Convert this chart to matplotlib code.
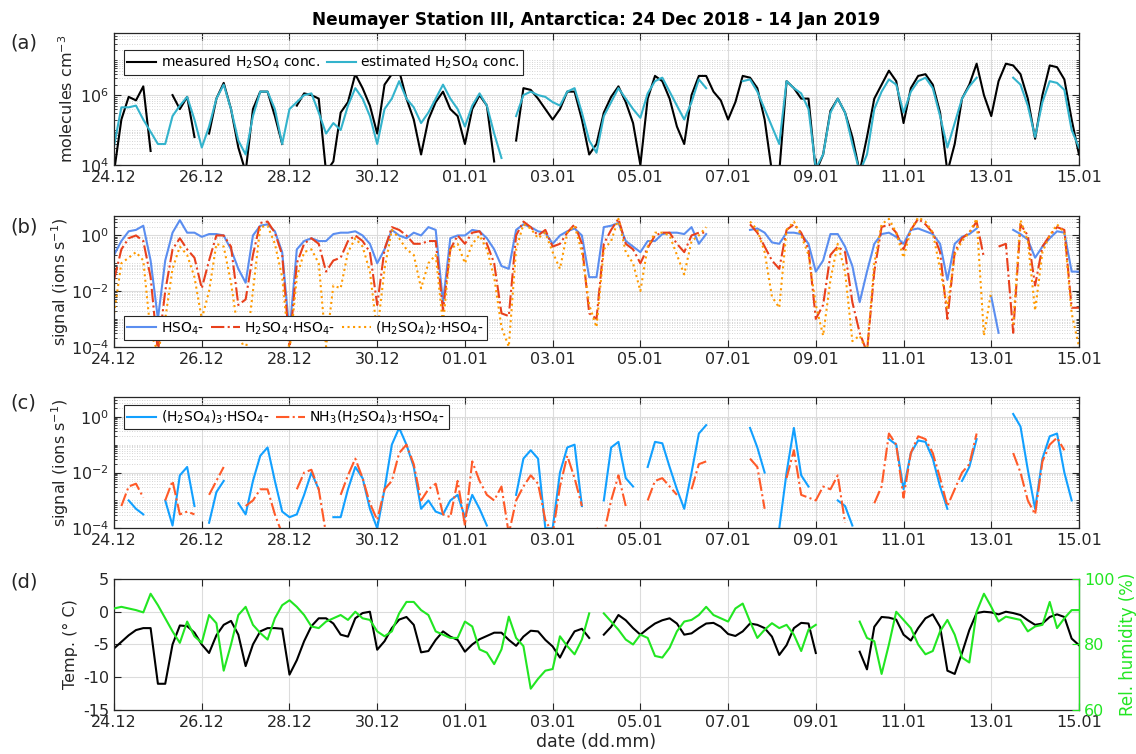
import numpy as np
import pandas as pd
import matplotlib
matplotlib.use("Agg")
import matplotlib.pyplot as plt
from matplotlib.ticker import FixedLocator, LogLocator, NullFormatter, FuncFormatter

nan = np.nan

# 4-hourly samples, 24 Dec 2018 00:00 -> 15 Jan 2019 00:00
times = pd.date_range("2018-12-24", periods=133, freq="4h")
tick_dates = pd.date_range("2018-12-24", "2019-01-15", freq="2D")
tick_labels = [d.strftime("%d.%m") for d in tick_dates]

# (a) H2SO4 concentration, log10(molecules cm-3), one row per day
h2so4_measured_log = [
    3.8, 5.3, 5.95, 5.85, 6.25, 4.4,
    nan, nan, 6.0, 5.6, 5.95, 4.8,
    nan, 4.9, 5.9, 6.35, 5.6, 4.5,
    3.8, 5.6, 6.1, 6.1, 5.4, 4.6,
    nan, 5.7, 6.05, 6.0, 5.9, 3.8,
    4.1, 5.5, 5.8, 6.6, 6.2, 5.7,
    4.9, 6.3, 6.6, 6.7, 5.9, 5.3,
    4.3, 5.3, 5.8, 6.1, 5.6, 5.4,
    4.6, 5.6, 6.0, 5.7, 4.1, nan,
    nan, 4.7, 6.2, 6.15, 5.9, 5.6,
    5.3, 5.6, 6.1, 6.1, 5.3, 4.3,
    4.6, 5.5, 5.95, 6.25, 5.8, 5.2,
    4.0, 5.9, 6.55, 6.4, 5.9, 5.1,
    4.6, 6.0, 6.55, 6.55, 6.1, 5.85,
    5.3, 5.8, 6.55, 6.5, 6.2, 5.3,
    3.8, 3.8, 6.4, 6.2, 5.9, 5.9,
    3.8, 4.3, 5.55, 5.9, 5.5, 4.8,
    3.8, 4.8, 5.9, 6.3, 6.7, 6.4,
    5.2, 6.2, 6.55, 6.6, 6.3, 5.5,
    3.8, 4.6, 5.9, 6.3, 6.9, 6.0,
    5.4, 6.4, 6.9, 6.85, 6.6, 5.9,
    4.75, 6.0, 6.85, 6.8, 6.45, 5.3,
    4.3,
]
h2so4_estimated_log = [
    4.55, 5.65, 5.65, 5.7, 5.3, 4.95,
    4.6, 4.6, 5.4, 5.7, 5.95, 5.3,
    4.5, 5.1, 5.9, 6.3, 5.6, 4.7,
    4.3, 5.4, 6.1, 6.1, 5.6, 4.6,
    5.6, 5.8, 6.0, 6.05, 5.5, 4.9,
    5.2, 5.0, 5.7, 6.2, 5.9, 5.4,
    4.6, 5.6, 5.9, 6.4, 5.9, 5.65,
    5.2, 5.5, 5.9, 6.3, 5.9, 5.6,
    5.1, 5.7, 6.05, 5.7, 4.9, 4.2,
    nan, 5.4, 6.0, 6.1, 6.0, 5.95,
    5.8, 5.7, 6.1, 6.2, 5.5, 4.7,
    4.35, 5.4, 5.8, 6.2, 5.9, 5.6,
    5.35, 6.05, 6.4, 6.5, 6.1, 5.7,
    5.3, 5.8, 6.45, 6.2, nan, nan,
    nan, nan, 6.4, 6.45, 6.1, 5.6,
    5.1, 4.6, 6.4, 6.2, 6.05, 5.6,
    3.9, 4.3, 5.5, 5.9, 5.5, 4.6,
    3.8, 4.3, 5.6, 6.1, 6.45, 6.3,
    5.5, 6.1, 6.4, 6.5, 6.2, 5.4,
    4.5, 5.2, 5.9, 6.25, 6.5, nan,
    nan, nan, nan, 6.5, 6.3, 5.7,
    4.8, 5.8, 6.4, 6.35, 6.15, 5.0,
    4.5,
]

# (b) cluster signals, log10(ions s-1)
hso4_log = [
    -0.7, -0.2, 0.15, 0.2, 0.35, -0.9,
    -3.0, -0.9, 0.1, 0.55, 0.1, 0.1,
    -0.05, 0.05, 0.05, 0.0, -0.5, -1.2,
    -1.7, 0.0, 0.35, 0.4, 0.15, -0.6,
    -3.5, -0.5, -0.2, -0.1, -0.2, -0.2,
    0.05, 0.1, 0.1, 0.15, 0.0, -0.3,
    -1.0, -0.5, 0.2, 0.0, -0.1, 0.1,
    0.0, 0.3, 0.2, -2.4, -0.1, 0.0,
    0.0, 0.2, 0.15, -0.1, -0.5, -1.1,
    -1.2, 0.2, 0.4, 0.3, 0.15, 0.1,
    -0.3, 0.0, 0.15, 0.25, 0.0, -1.5,
    -1.5, 0.3, 0.35, 0.45, -0.2, -0.4,
    -0.6, -0.2, -0.2, 0.05, 0.1, 0.1,
    0.05, 0.3, -0.3, 0.05, nan, nan,
    nan, nan, nan, 0.2, 0.25, 0.1,
    -0.25, -0.3, 0.1, 0.1, 0.05, -0.3,
    -1.3, -0.9, 0.05, 0.05, -0.4, -1.1,
    -2.4, -1.3, -0.3, 0.05, 0.1, -0.05,
    -0.3, 0.2, 0.25, 0.15, 0.05, -0.3,
    -1.6, -0.3, -0.05, 0.05, 0.25, nan,
    -2.2, -3.5, nan, 0.2, 0.05, -0.15,
    -0.8, -0.4, -0.1, 0.15, 0.1, -1.3,
    -1.3,
]
dimer_log = [
    -1.6, -0.5, -0.1, 0.0, -0.2, -1.5,
    -4.2, -2.0, -0.5, -0.1, -0.5, -0.8,
    -1.9, -0.9, 0.0, 0.0, -0.4, -2.5,
    -2.3, -0.7, 0.45, 0.5, 0.1, -0.7,
    -4.0, -1.0, -0.3, -0.1, -0.3, -1.3,
    -0.9, -0.8, -0.2, 0.0, -0.2, -0.6,
    -2.5, -0.5, 0.3, 0.2, 0.0, -0.3,
    -0.3, -0.2, -0.2, -2.7, -0.5, 0.0,
    -0.3, 0.1, 0.15, -0.3, -1.0, -2.8,
    -2.9, 0.0, 0.5, 0.3, 0.0, 0.2,
    -0.4, -0.3, 0.1, 0.4, -0.3, -2.8,
    -3.0, -0.3, 0.2, 0.6, -0.3, -0.5,
    -1.0, -0.45, 0.0, 0.1, 0.1, -0.3,
    -0.6, 0.0, 0.1, 0.1, nan, nan,
    nan, nan, nan, 0.4, 0.1, -0.4,
    -0.9, -1.2, 0.2, 0.4, 0.1, -0.5,
    -3.0, -2.5, -0.7, -0.4, -0.6, -2.4,
    -3.5, -4.2, -1.3, 0.3, 0.4, 0.1,
    -0.5, 0.2, 0.6, 0.4, 0.1, -0.6,
    -3.0, -0.6, -0.1, 0.1, 0.5, -0.8,
    nan, -0.4, -0.3, -3.5, 0.4, 0.0,
    -1.8, -0.4, 0.0, 0.3, 0.2, -2.6,
    -2.6,
]
trimer_log = [
    -2.8, -1.0, -0.8, -0.6, -0.9, -3.5,
    -4.2, -3.0, -1.2, -0.4, -0.7, -1.5,
    -3.0, -2.0, -0.3, -0.4, -1.7, -3.5,
    -4.2, -2.0, 0.3, 0.35, -0.3, -1.5,
    -4.2, -1.5, -0.6, -0.5, -1.0, -4.0,
    -1.8, -1.9, -0.6, -0.1, -0.4, -1.3,
    -3.5, -1.2, 0.2, -0.1, -0.5, -0.7,
    -1.9, -1.0, -0.7, -3.2, -0.5, -0.3,
    -1.0, -0.3, 0.0, -0.5, -1.5, -3.3,
    -4.0, -0.5, 0.4, 0.25, -0.1, 0.1,
    -0.6, -1.2, 0.1, 0.35, -0.6, -2.5,
    -3.3, -0.5, -0.2, 0.6, -0.6, -1.0,
    -2.0, -0.4, 0.1, 0.1, 0.0, -0.7,
    -1.4, -0.2, 0.0, 0.3, nan, nan,
    nan, nan, nan, 0.5, 0.2, -0.6,
    -2.2, -2.6, 0.2, 0.5, 0.0, -0.7,
    -2.5, -3.6, -1.6, -0.3, -1.3, -3.8,
    -3.6, -4.2, -1.0, 0.4, 0.6, 0.1,
    -0.8, 0.2, 0.65, 0.5, 0.1, -1.2,
    -2.6, -0.7, -0.2, 0.1, 0.6, -3.6,
    -2.0, nan, nan, -3.2, 0.55, -0.2,
    -2.7, -0.6, 0.0, 0.4, 0.1, -2.8,
    -4.0,
]

# (c) larger clusters, log10(ions s-1)
tetramer_log = [
    nan, nan, -3.0, -3.3, -3.5, nan,
    nan, -3.0, -3.9, -2.1, -1.8, -3.2,
    nan, -3.8, -2.7, -2.3, nan, -3.1,
    -3.5, -2.3, -1.4, -1.1, -2.3, -3.4,
    -3.6, -3.5, -2.8, -2.0, -2.6, nan,
    -3.6, -3.6, -2.6, -1.8, -2.2, -3.3,
    -4.0, -2.6, -1.0, -0.4, -1.0, -1.8,
    -3.3, -3.0, -3.4, -3.5, -3.0, -2.8,
    -3.6, -2.8, -3.3, -3.9, nan, nan,
    nan, -2.8, -1.5, -1.2, -1.5, -4.0,
    -4.0, -2.0, -1.1, -1.0, -3.2, nan,
    nan, -3.0, -1.1, -0.9, -2.2, -2.5,
    nan, -1.8, -0.9, -0.95, -1.8, -2.6,
    -3.3, -2.0, -0.6, -0.3, nan, nan,
    nan, nan, nan, -0.4, -1.1, -2.0,
    nan, -4.0, -2.0, -0.4, -2.1, -2.5,
    nan, nan, nan, -3.0, -3.2, -3.9,
    nan, nan, nan, nan, -0.8, -1.0,
    -2.6, -1.3, -0.85, -0.9, -1.5, -2.5,
    -3.3, nan, -2.3, -1.8, -0.8, nan,
    nan, nan, nan, 0.1, -0.35, -1.9,
    -3.3, -1.5, -0.7, -0.6, -2.0, -3.0,
    nan,
]
nh3_tetramer_log = [
    nan, -3.2, -2.5, -2.4, -2.9, nan,
    nan, -3.0, -2.3, -3.5, -3.4, -3.5,
    nan, -2.8, -2.3, -1.8, nan, nan,
    -3.2, -3.0, -2.6, -2.6, -3.5, -4.2,
    nan, -2.6, -2.0, -1.9, -2.6, -4.2,
    nan, -2.8, -2.1, -1.5, -2.2, -3.1,
    -3.7, -2.6, -2.3, -1.3, -1.0, -1.7,
    -3.0, -2.6, -2.4, -3.5, -3.6, -2.3,
    -3.9, -1.6, -2.3, -2.8, -3.0, -2.5,
    -4.2, -3.0, -2.5, -2.1, -2.4, -3.7,
    -4.2, -2.5, -1.4, -2.2, -3.2, nan,
    -4.0, -4.2, -3.0, -2.1, -3.2, nan,
    nan, -3.0, -2.3, -2.2, -2.5, -2.8,
    nan, -2.6, -1.7, -1.6, nan, nan,
    nan, nan, nan, -1.5, -1.8, -3.3,
    nan, nan, -2.2, -1.2, -2.8, -2.9,
    -3.0, -2.5, -2.6, -2.1, -3.8, nan,
    nan, nan, -3.1, -2.5, -0.6, -1.0,
    -2.9, -1.3, -0.7, -0.8, -1.3, -2.2,
    -3.2, -2.6, -2.0, -1.7, -0.6, nan,
    nan, nan, nan, -1.3, -2.0, -3.0,
    -3.5, -1.6, -1.0, -0.75, -1.2, nan,
    nan,
]

# (d) meteorology
temperature = [
    -5.6, -4.6, -3.6, -2.8, -2.5, -2.5,
    -11.0, -11.0, -5.0, -2.1, -2.2, -3.2,
    -5.0, -6.3, -3.6, -2.0, -1.4, -3.5,
    -8.3, -5.0, -3.0, -2.5, -2.5, -2.6,
    -9.6, -7.4, -4.5, -2.2, -1.0, -1.0,
    -1.8, -3.5, -3.8, -1.0, -0.2, 0.0,
    -5.8, -4.5, -2.5, -1.2, -0.8, -2.0,
    -6.2, -6.0, -4.3, -3.0, -3.8, -4.3,
    -6.1, -5.0, -4.2, -3.7, -3.2, -3.2,
    -4.3, -5.2, -3.8, -2.9, -3.0, -4.3,
    -5.3, -7.0, -4.8, -3.0, -2.6, -4.0,
    nan, -3.5, -2.3, -0.5, -1.3, -2.5,
    -3.5, -2.6, -1.8, -1.3, -1.0, -1.8,
    -3.5, -3.3, -2.5, -1.8, -1.7, -2.3,
    -3.4, -3.7, -3.0, -1.8, -2.0, -2.5,
    -3.8, -6.6, -5.1, -2.5, -1.7, -1.8,
    -6.3, nan, nan, nan, nan, nan,
    -6.1, -8.8, -2.3, -0.8, -0.9, -1.2,
    -3.5, -4.4, -2.5, -1.0, -0.4, -2.3,
    -9.0, -9.5, -6.3, -2.8, -0.2, 0.0,
    -0.1, -0.4, 0.0, -0.2, -0.5, -1.3,
    -2.0, -1.8, -0.8, -0.4, -0.8, -4.1,
    -5.1,
]
rel_humidity = [
    91.0, 91.5, 91.0, 90.5, 89.8, 95.5,
    92.0, 88.0, 84.0, 80.5, 87.0, 82.5,
    80.5, 89.0, 86.5, 72.0, 80.0, 89.0,
    91.5, 86.0, 83.5, 81.5, 88.0, 92.0,
    93.5, 91.5, 89.0, 85.5, 85.0, 87.0,
    88.0, 89.0, 87.5, 90.0, 88.0, 87.5,
    84.0, 82.5, 84.0, 89.5, 93.0, 93.0,
    90.5, 89.0, 84.0, 83.0, 82.0, 82.0,
    87.0, 85.5, 78.5, 77.5, 74.0, 78.5,
    88.5, 82.0, 79.5, 66.5, 69.5, 72.0,
    72.5, 82.5, 79.5, 77.0, 81.5, 89.5,
    nan, 89.5, 87.0, 84.5, 81.5, 80.0,
    83.0, 82.0, 76.5, 76.0, 79.0, 84.0,
    87.0, 87.5, 89.0, 91.5, 89.0, 88.0,
    87.0, 91.0, 92.5, 87.0, 82.0, 84.5,
    86.5, 85.0, 86.0, 83.0, 78.0, 84.5,
    86.0, nan, nan, nan, nan, nan,
    87.0, 82.0, 81.0, 71.0, 80.0, 90.0,
    87.5, 85.0, 80.0, 77.0, 78.0, 84.0,
    87.5, 83.0, 76.0, 74.5, 90.0, 95.5,
    91.5, 87.0, 88.5, 88.0, 87.5, 84.0,
    85.5, 86.0, 93.0, 85.0, 88.0, 90.5,
    90.5,
]

plt.rcParams["font.family"] = "DejaVu Sans"
plt.rcParams["axes.unicode_minus"] = False
plt.rcParams["mathtext.default"] = "regular"

TXT = "#262626"
GREEN = "#22e622"

fig = plt.figure(figsize=(11.36, 7.54), dpi=100)
L, W = 0.1004, 0.8494
ax_a = fig.add_axes([L, 0.7812, W, 0.1750])
ax_b = fig.add_axes([L, 0.5402, W, 0.1733])
ax_c = fig.add_axes([L, 0.2993, W, 0.1738])
ax_d = fig.add_axes([L, 0.0584, W, 0.1737])

log_fmt = FuncFormatter(lambda v, p: "$10^{%d}$" % round(np.log10(v)))


def setup(ax, log=False):
    ax.set_xlim(times[0], times[-1])
    ax.set_xticks(tick_dates)
    ax.set_xticklabels(tick_labels)
    ax.tick_params(which="both", direction="in", top=True, right=True,
                   color=TXT, labelcolor=TXT, labelsize=11.5)
    ax.tick_params(which="major", length=5, width=0.8)
    ax.tick_params(which="minor", length=2.5, width=0.6)
    ax.grid(True, which="major", color="#dcdcdc", lw=0.8)
    ax.set_axisbelow(True)
    for s in ax.spines.values():
        s.set_color(TXT)
        s.set_linewidth(0.9)
    if log:
        ax.set_yscale("log")
        ax.yaxis.set_minor_locator(LogLocator(base=10, subs=np.arange(1, 10), numticks=30))
        ax.yaxis.set_minor_formatter(NullFormatter())
        ax.yaxis.set_major_formatter(log_fmt)
        ax.grid(True, which="minor", axis="y", color="#c8c8c8", ls=(0, (1, 2)), lw=0.6)


def to_lin(vals):
    return 10 ** np.array(vals, dtype=float)


leg_kw = dict(fontsize=10, frameon=True, fancybox=False, framealpha=1,
              edgecolor=TXT, borderpad=0.25, handlelength=2.1, handletextpad=0.3,
              columnspacing=0.5, borderaxespad=0)

# (a)
setup(ax_a, log=True)
ax_a.plot(times, to_lin(h2so4_measured_log), color="k", lw=1.5, label="measured H$_2$SO$_4$ conc.")
ax_a.plot(times, to_lin(h2so4_estimated_log), color="#33b3cc", lw=1.5, label="estimated H$_2$SO$_4$ conc.")
ax_a.set_ylim(1e4, 6e7)
ax_a.yaxis.set_major_locator(FixedLocator([1e4, 1e6]))
ax_a.set_ylabel("molecules cm$^{-3}$", fontsize=11.5, color=TXT)
ax_a.yaxis.set_label_coords(-0.039, 0.5)
leg = ax_a.legend(loc="upper left", bbox_to_anchor=(0.01, 0.87), ncol=2, **leg_kw)
leg.get_frame().set_linewidth(0.8)

# (b)
setup(ax_b, log=True)
ax_b.plot(times, to_lin(hso4_log), color="#5b8ef0", lw=1.5, label="HSO$_4$-")
ax_b.plot(times, to_lin(dimer_log), color="#e8401c", lw=1.5, ls="-.", label="H$_2$SO$_4$·HSO$_4$-")
ax_b.plot(times, to_lin(trimer_log), color="#ff9a00", lw=1.5, ls=":", label="(H$_2$SO$_4$)$_2$·HSO$_4$-")
ax_b.set_ylim(1e-4, 5)
ax_b.yaxis.set_major_locator(FixedLocator([1e-4, 1e-2, 1]))
ax_b.set_ylabel("signal (ions s$^{-1}$)", fontsize=11.5, color=TXT)
ax_b.yaxis.set_label_coords(-0.0446, 0.5)
leg = ax_b.legend(loc="lower left", bbox_to_anchor=(0.01, 0.05), ncol=3, **leg_kw)
leg.get_frame().set_linewidth(0.8)

# (c)
setup(ax_c, log=True)
ax_c.plot(times, to_lin(tetramer_log), color="#12a0ff", lw=1.5, label="(H$_2$SO$_4$)$_3$·HSO$_4$-")
ax_c.plot(times, to_lin(nh3_tetramer_log), color="#ff5a28", lw=1.5, ls="-.", label="NH$_3$(H$_2$SO$_4$)$_3$·HSO$_4$-")
ax_c.set_ylim(1e-4, 5)
ax_c.yaxis.set_major_locator(FixedLocator([1e-4, 1e-2, 1]))
ax_c.set_ylabel("signal (ions s$^{-1}$)", fontsize=11.5, color=TXT)
ax_c.yaxis.set_label_coords(-0.0446, 0.5)
leg = ax_c.legend(loc="upper left", bbox_to_anchor=(0.01, 0.94), ncol=2, **leg_kw)
leg.get_frame().set_linewidth(0.8)

# (d)
setup(ax_d)
ax_d.tick_params(which="both", right=False)
ax_d.plot(times, temperature, color="k", lw=1.5)
ax_d.set_ylim(-15, 5)
ax_d.set_yticks([-15, -10, -5, 0, 5])
ax_d.set_ylabel("Temp. (° C)", fontsize=11.5, color=TXT)
ax_d.yaxis.set_label_coords(-0.037, 0.5)
ax_d.set_xlabel("date (dd.mm)", fontsize=12.5, color=TXT, labelpad=2)

ax2 = ax_d.twinx()
ax2.plot(times, rel_humidity, color=GREEN, lw=1.5)
ax2.set_xlim(times[0], times[-1])
ax2.set_ylim(60, 100)
ax2.set_yticks([60, 80, 100])
ax2.tick_params(direction="in", length=5, width=0.8, color=GREEN, labelcolor=GREEN, labelsize=11.5)
for side in ["left", "top", "bottom"]:
    ax2.spines[side].set_visible(False)
ax2.spines["right"].set_color(GREEN)
ax2.spines["right"].set_linewidth(0.9)
ax2.set_ylabel("Rel. humidity (%)", fontsize=12, color=GREEN)
ax2.yaxis.set_label_coords(1.041, 0.5)

# panel letters and title
for ax, letter, yy in [(ax_a, "(a)", 0.943), (ax_b, "(b)", 0.699),
                       (ax_c, "(c)", 0.466), (ax_d, "(d)", 0.228)]:
    fig.text(0.009, yy, letter, fontsize=14, color=TXT, va="center")

fig.text(0.525, 0.973, "Neumayer Station III, Antarctica: 24 Dec 2018 - 14 Jan 2019",
         ha="center", va="center", fontsize=12.2, weight="bold", color="k")

fig.savefig("out.png", dpi=100)
